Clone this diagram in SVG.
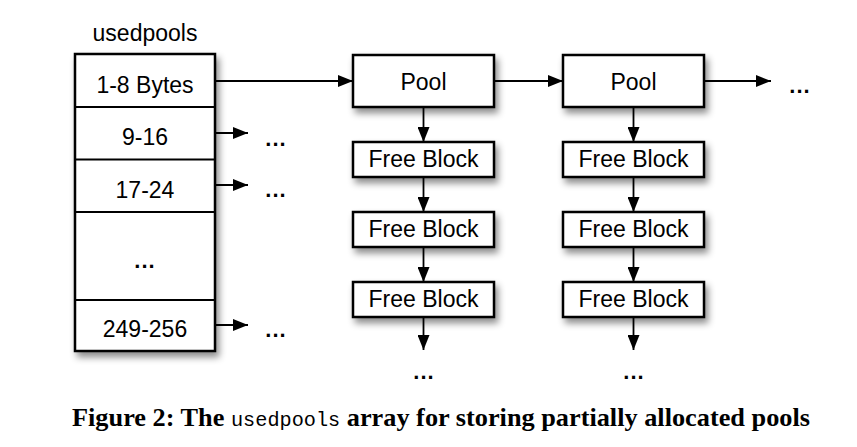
<svg xmlns="http://www.w3.org/2000/svg" width="857" height="447" viewBox="0 0 857 447">
<defs>
<filter id="sh" x="-20%" y="-20%" width="150%" height="160%">
<feDropShadow dx="3" dy="5" stdDeviation="3.5" flood-color="#000" flood-opacity="0.45"/>
</filter>
<marker id="ah" viewBox="0 0 15 12" refX="15" refY="6" markerWidth="15" markerHeight="12" markerUnits="userSpaceOnUse" orient="auto">
<path d="M0,0 L15,6 L0,12 Z" fill="#000"/>
</marker>
<style>
.box{fill:#fff;stroke:#000;stroke-width:2.5}
.ln{stroke:#000;stroke-width:1.8;fill:none}
.lbl{font-family:"Liberation Sans",Arial,sans-serif;font-size:23px;fill:#000;text-anchor:middle}
.dots{font-family:"Liberation Sans",Arial,sans-serif;font-size:22px;font-weight:bold;fill:#000;text-anchor:middle;letter-spacing:1px}
.conn{stroke:#000;stroke-width:1.8;fill:none;marker-end:url(#ah)}
.cap{font-family:"Liberation Serif","Times New Roman",serif;font-size:26px;font-weight:bold;fill:#000}
.mono{font-family:"Liberation Mono","Courier New",monospace;font-weight:normal;font-size:20px}
</style>
</defs>
<rect width="857" height="447" fill="#fff"/>
<g id="usedpools">
<text class="lbl" x="145" y="41">usedpools</text>
<rect class="box" x="75" y="54" width="140" height="297" filter="url(#sh)"/>
<line class="ln" x1="75" y1="107" x2="215" y2="107"/>
<line class="ln" x1="75" y1="159.5" x2="215" y2="159.5"/>
<line class="ln" x1="75" y1="212" x2="215" y2="212"/>
<line class="ln" x1="75" y1="300" x2="215" y2="300"/>
<text class="lbl" x="145" y="93">1-8 Bytes</text>
<text class="lbl" x="145" y="145">9-16</text>
<text class="lbl" x="145" y="198">17-24</text>
<text class="dots" x="145" y="268">...</text>
<text class="lbl" x="145" y="337">249-256</text>
</g>
<g id="pool1">
<rect class="box" x="353" y="55" width="141" height="52" filter="url(#sh)"/>
<text class="lbl" x="423.5" y="89.5">Pool</text>
</g>
<g id="pool2">
<rect class="box" x="563" y="55" width="141" height="52" filter="url(#sh)"/>
<text class="lbl" x="633.5" y="89.5">Pool</text>
</g>
<g id="fb1a"><rect class="box" x="353" y="142" width="141" height="35" filter="url(#sh)"/><text class="lbl" x="423.5" y="167">Free Block</text></g>
<g id="fb1b"><rect class="box" x="353" y="212" width="141" height="35" filter="url(#sh)"/><text class="lbl" x="423.5" y="237">Free Block</text></g>
<g id="fb1c"><rect class="box" x="353" y="282" width="141" height="35" filter="url(#sh)"/><text class="lbl" x="423.5" y="307">Free Block</text></g>
<g id="fb2a"><rect class="box" x="563" y="142" width="141" height="35" filter="url(#sh)"/><text class="lbl" x="633.5" y="167">Free Block</text></g>
<g id="fb2b"><rect class="box" x="563" y="212" width="141" height="35" filter="url(#sh)"/><text class="lbl" x="633.5" y="237">Free Block</text></g>
<g id="fb2c"><rect class="box" x="563" y="282" width="141" height="35" filter="url(#sh)"/><text class="lbl" x="633.5" y="307">Free Block</text></g>
<g id="ellipses">
<text class="dots" x="276" y="146">...</text>
<text class="dots" x="276" y="197">...</text>
<text class="dots" x="276" y="337">...</text>
<text class="dots" x="424" y="379">...</text>
<text class="dots" x="634" y="379">...</text>
<text class="dots" x="800" y="93">...</text>
</g>
<g id="connectors">
<line class="conn" x1="215" y1="81" x2="353" y2="81"/>
<line class="conn" x1="494" y1="81" x2="563" y2="81"/>
<line class="conn" x1="704" y1="81" x2="771" y2="81"/>
<line class="conn" x1="215" y1="133" x2="248" y2="133"/>
<line class="conn" x1="215" y1="185" x2="248" y2="185"/>
<line class="conn" x1="215" y1="325" x2="248" y2="325"/>
<line class="conn" x1="423.5" y1="107" x2="423.5" y2="142"/>
<line class="conn" x1="423.5" y1="177" x2="423.5" y2="212"/>
<line class="conn" x1="423.5" y1="247" x2="423.5" y2="282"/>
<line class="conn" x1="423.5" y1="317" x2="423.5" y2="350"/>
<line class="conn" x1="633.5" y1="107" x2="633.5" y2="142"/>
<line class="conn" x1="633.5" y1="177" x2="633.5" y2="212"/>
<line class="conn" x1="633.5" y1="247" x2="633.5" y2="282"/>
<line class="conn" x1="633.5" y1="317" x2="633.5" y2="350"/>
</g>
<g id="caption">
<text class="cap" x="72" y="426" textLength="738" lengthAdjust="spacingAndGlyphs">Figure 2: The <tspan class="mono">usedpools</tspan> array for storing partially allocated pools</text>
</g>
</svg>
